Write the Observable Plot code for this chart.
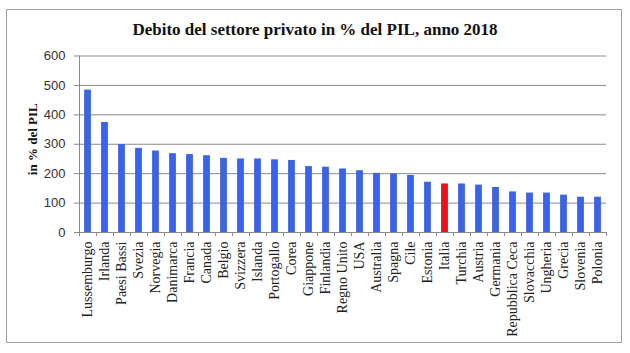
<!DOCTYPE html>
<html>
<head>
<meta charset="utf-8">
<script src="https://cdn.jsdelivr.net/npm/d3@7"></script>
<script src="https://cdn.jsdelivr.net/npm/@observablehq/plot@0.6"></script>
<style>
  body { margin: 0; background: #fff; }
  #wrap { position: relative; width: 630px; height: 353px; overflow: hidden; }
  #frame { position: absolute; left: 6px; top: 9px; width: 614px; height: 332px; border: 1.5px solid #a3a3a3; pointer-events: none; }
  #title { position: absolute; left: 0; top: 20px; width: 630px; text-align: center; font: bold 17px "Liberation Serif", serif; line-height: 19px; color: #111; }
  #chart { position: absolute; left: 0; top: 0; }
</style>
</head>
<body>
<div id="wrap">
  <div id="chart"></div>
  <div id="title">Debito del settore privato in % del PIL, anno 2018</div>
  <div id="frame"></div>
</div>
<script>
const countries = ["Lussemburgo","Irlanda","Paesi Bassi","Svezia","Norvegia","Danimarca","Francia","Canada","Belgio","Svizzera","Islanda","Portogallo","Corea","Giappone","Finlandia","Regno Unito","USA","Australia","Spagna","Cile","Estonia","Italia","Turchia","Austria","Germania","Repubblica Ceca","Slovacchia","Ungheria","Grecia","Slovenia","Polonia"];
const values = [484,374,299,286,277,268,265,261,252,250,250,247,245,224,222,216,210,201,199,194,171,165,165,161,153,138,134,134,127,120,120];
const highlight = "Italia";
const yTicks = [0,100,200,300,400,500,600];
const yLabel = "in % del PIL";

const data = countries.map((name, i) => ({i, name, value: values[i]}));
const n = countries.length;
const blue = "#3a63e8", red = "#e8121c";

const chart = Plot.plot({
  width: 630,
  height: 353,
  marginLeft: 79,
  marginRight: 24,
  marginTop: 55.5,
  marginBottom: 121,
  style: {background: "transparent", fontFamily: "Liberation Sans, sans-serif"},
  x: {type: "linear", domain: [0, n]},
  y: {domain: [0, 600]},
  marks: [
    Plot.ruleY(yTicks, {stroke: "#8a8a8a", strokeWidth: 1}),
    Plot.rectY(data, {x1: d => d.i + 0.3, x2: d => d.i + 0.7, y: "value", fill: d => d.name === highlight ? red : blue}),
    Plot.ruleX([0], {stroke: "#8a8a8a"}),
    Plot.axisY({ticks: yTicks, tickSize: 5, tickPadding: 9, stroke: "#8a8a8a", fill: "#333", fontSize: 13, label: null}),
    Plot.axisX({ticks: d3.range(n + 1), tickSize: 4, tickFormat: () => "", stroke: "#8a8a8a", label: null}),
    Plot.text(data, {x: d => d.i + 0.5, frameAnchor: "bottom", text: "name", rotate: -90, textAnchor: "end", lineAnchor: "middle", dy: 9, fontFamily: "Liberation Serif, serif", fontSize: 14, fill: "#222"}),
    Plot.text([yLabel], {frameAnchor: "left", text: d => d, rotate: -90, textAnchor: "middle", lineAnchor: "middle", dx: -47, dy: -5, fontFamily: "Liberation Serif, serif", fontWeight: "bold", fontSize: 13, fill: "#111"})
  ]
});
document.getElementById("chart").appendChild(chart);
</script>
</body>
</html>
